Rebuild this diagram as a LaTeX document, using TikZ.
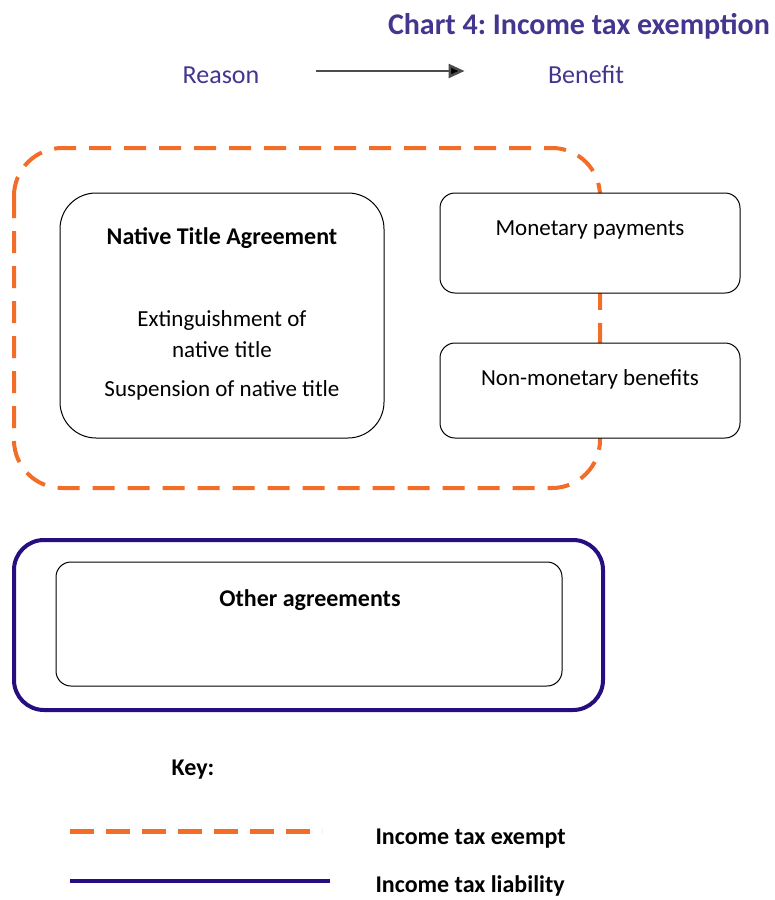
\documentclass[tikz,border=0pt]{standalone}
\usepackage{fontspec}
\setmainfont{Carlito}
\usetikzlibrary{arrows.meta}

\definecolor{exempt}{RGB}{242,110,40}
\definecolor{liability}{RGB}{38,14,128}
\definecolor{heading}{RGB}{68,54,142}

\begin{document}
\frenchspacing
\begin{tikzpicture}[x=1pt,y=-1pt,
    box/.style={draw, fill=white, line width=1pt, rounded corners=15pt},
    txt/.style={font=\fontsize{23}{27}\selectfont},
    btxt/.style={font=\bfseries\fontsize{24}{28}\selectfont}] %4
            \useasboundingbox (0,0) rectangle (775,900);

            % heading
            \node[font=\bfseries\fontsize{30}{34}\selectfont, text=heading] (chart) at (579,26) {Chart 4: Income tax exemption};
            \node[font=\fontsize{26}{30}\selectfont, text=heading] (reason) at (221,75) {Reason};
            \node[font=\fontsize{26}{30}\selectfont, text=heading] (benefit) at (586,75) {Benefit};
            \draw[black!70, line width=2.5pt, -{Triangle[length=16pt,width=14pt,fill=black]}] ([xshift=53pt,yshift=4pt]reason.east) -- ([xshift=-80pt,yshift=4pt]benefit.west);

            % exempt group
            \draw[exempt, line width=4pt, dash pattern=on 22pt off 13pt, rounded corners=48pt] (14,148) rectangle (600,488);
            \node[box, rounded corners=36pt, minimum width=324pt, minimum height=245pt] (nta) at (222,315.5) {};
            \node[box, minimum width=300pt, minimum height=100pt] (money) at (590,243) {};
            \node[box, minimum width=300pt, minimum height=95pt] (nonmoney) at (590,390.5) {};

            \node[btxt] (ntatitle) at (222,238) {Native Title Agreement};
            \node[txt] (extin) at (222,320) {Extinguishment of};
            \node[txt] (native) at (222,350) {native title};
            \node[txt] (suspend) at (222,390) {Suspension of native title};
            \node[txt] (moneytxt) at (590,230) {Monetary payments};
            \node[txt] (nonmoneytxt) at (590,379) {Non-monetary benefits};

            % liability group
            \draw[liability, line width=4pt, rounded corners=30pt] (14,540) rectangle (603,710);
            \node[box, minimum width=506pt, minimum height=124pt] (other) at (309,624) {};
            \node[btxt] (othertxt) at (310,600) {Other agreements};

            % key
            \node[btxt] (key) at (193,770) {Key:};
            \coordinate (exa) at (70,831);
            \coordinate (exb) at (322,831);
            \coordinate (lia) at (70,881);
            \coordinate (lib) at (330,881);
            \draw[exempt, line width=5pt, dash pattern=on 24pt off 12pt] (exa) -- (exb);
            \draw[liability, line width=4pt] (lia) -- (lib);
            \node[btxt, anchor=west] (exempttxt) at (372,839) {Income tax exempt};
            \node[btxt, anchor=west] (liabtxt) at (372,886) {Income tax liability};
        \end{tikzpicture}
\end{document}
